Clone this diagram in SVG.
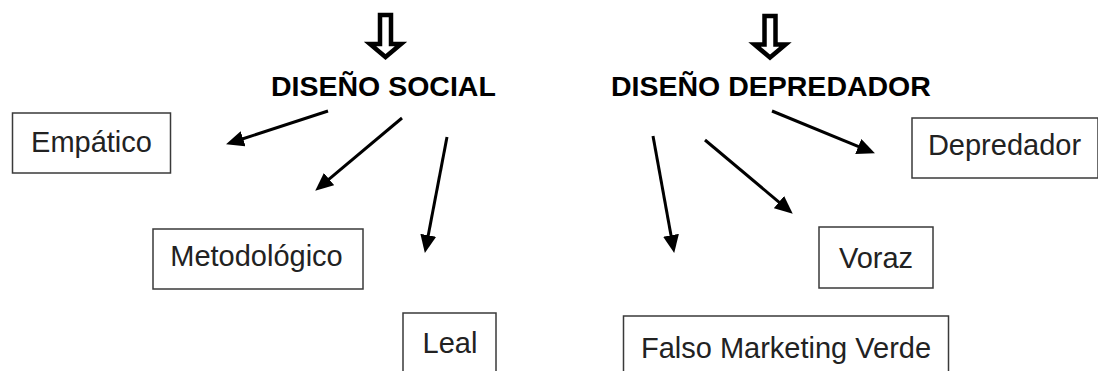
<svg xmlns="http://www.w3.org/2000/svg" width="1098" height="371" viewBox="0 0 1098 371">
  <style>
    .box { fill: #ffffff; stroke: #3a3a3a; stroke-width: 1.5; }
    .lbl { font-family: "Liberation Sans", Arial, sans-serif; font-size: 29px; fill: #222222; text-anchor: middle; }
    .head { font-family: "Liberation Sans", Arial, sans-serif; font-size: 28.5px; font-weight: bold; fill: #000000; }
    .conn { stroke: #000000; stroke-width: 3; fill: none; marker-end: url(#arr); }
    .hollow { fill: #ffffff; stroke: #000000; stroke-width: 4.5; stroke-linejoin: miter; }
  </style>
  <defs>
    <marker id="arr" markerUnits="userSpaceOnUse" markerWidth="18" markerHeight="16" refX="5" refY="8" orient="auto">
      <path d="M0,0 L18,8 L0,16 z" fill="#000000"/>
    </marker>
  </defs>
  <rect width="1098" height="371" fill="#ffffff"/>

  <g id="hollow-arrows">
    <path class="hollow" transform="translate(385.5,0)" d="M-5.5,15 h11 v29 h10 l-15.5,13 l-15.5,-13 h10 z"/>
    <path class="hollow" transform="translate(770,0)" d="M-5.5,16 h11 v28.5 h10 l-15.5,13 l-15.5,-13 h10 z"/>
  </g>

  <g id="social">
    <text class="head" x="271" y="96">DISEÑO SOCIAL</text>
  </g>
  <g id="depredador-head">
    <text class="head" x="611" y="96">DISEÑO DEPREDADOR</text>
  </g>

  <g id="empatico">
    <rect class="box" x="12.5" y="113" width="158" height="60"/>
    <text class="lbl" x="91.5" y="152">Empático</text>
  </g>
  <g id="metodologico">
    <rect class="box" x="153" y="229" width="210" height="60"/>
    <text class="lbl" x="256.5" y="266">Metodológico</text>
  </g>
  <g id="leal">
    <rect class="box" x="403" y="313" width="93" height="70"/>
    <text class="lbl" x="450" y="353">Leal</text>
  </g>
  <g id="falso">
    <rect class="box" x="623.5" y="316" width="325" height="70"/>
    <text class="lbl" x="786" y="358">Falso Marketing Verde</text>
  </g>
  <g id="voraz">
    <rect class="box" x="819" y="227" width="114" height="61"/>
    <text class="lbl" x="876" y="268">Voraz</text>
  </g>
  <g id="depredador">
    <rect class="box" x="912" y="118" width="186" height="60"/>
    <text class="lbl" x="1004.5" y="155">Depredador</text>
  </g>

  <g id="connectors">
    <line class="conn" x1="328" y1="111" x2="238.4" y2="140.3"/>
    <line class="conn" x1="402" y1="118" x2="325.2" y2="182.3"/>
    <line class="conn" x1="447" y1="137" x2="427.3" y2="240.2"/>
    <line class="conn" x1="772" y1="111" x2="862.9" y2="148.4"/>
    <line class="conn" x1="705" y1="140" x2="782.8" y2="205.3"/>
    <line class="conn" x1="653" y1="136" x2="671.9" y2="240.2"/>
  </g>
</svg>
